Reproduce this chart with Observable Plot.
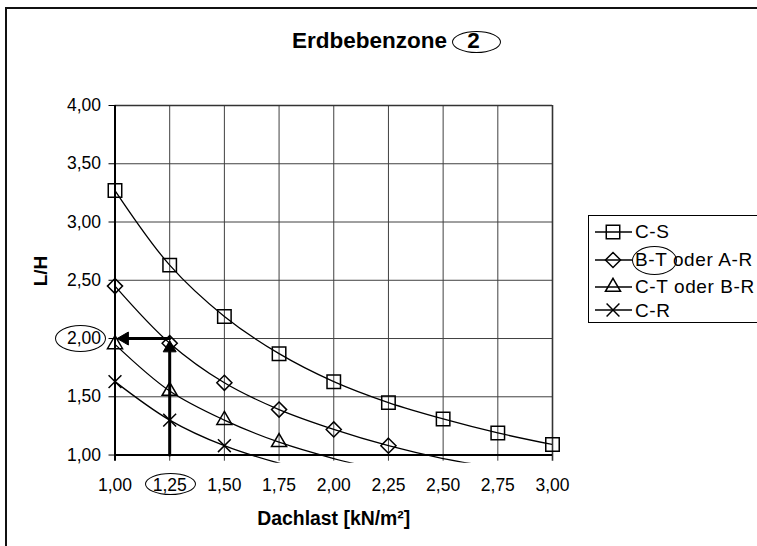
<!DOCTYPE html>
<html><head><meta charset="utf-8">
<script src="https://cdn.jsdelivr.net/npm/d3@7"></script>
<script src="https://cdn.jsdelivr.net/npm/@observablehq/plot@0.6"></script>
<style>
html,body{margin:0;padding:0;background:#fff;overflow:hidden;}
#chart{position:relative;width:757px;height:546px;overflow:hidden;font-family:"Liberation Sans",Arial,sans-serif;color:#000;background:#fff;}
#frameTop{position:absolute;left:5px;top:7px;width:760px;height:2px;background:#111;}
#frameLeft{position:absolute;left:5px;top:7px;width:2px;height:560px;background:#111;}
#plotwrap{position:absolute;left:0;top:0;}
#title{position:absolute;left:292px;top:30px;font-size:22.5px;font-weight:bold;line-height:22.5px;white-space:nowrap;}
#title .two{margin-left:14px;}
.ell{position:absolute;border:1.5px solid #000;border-radius:50%;box-sizing:border-box;pointer-events:none;}
#legend{position:absolute;left:588px;top:215px;width:180px;height:108px;border-left:1px solid #000;border-top:1px solid #000;border-bottom:1px solid #000;box-sizing:border-box;background:#fff;}
#legend .lt{position:absolute;left:46px;font-size:19px;line-height:19px;letter-spacing:0.6px;white-space:nowrap;}
#legend svg{position:absolute;left:6px;}
</style>
</head><body>
<div id="chart">
  <div id="frameTop"></div>
  <div id="frameLeft"></div>
  <div id="plotwrap"></div>
  <div id="title">Erdbebenzone <span class="two">2</span></div>
  <div id="legend"></div>
</div>
<script>
// ---- data ----
const xs = [1.00, 1.25, 1.50, 1.75, 2.00, 2.25, 2.50, 2.75, 3.00];
const seriesNames = ["C-S", "B-T oder A-R", "C-T oder B-R", "C-R"];
const cS   = [3.27, 2.63, 2.19, 1.87, 1.63, 1.45, 1.31, 1.19, 1.09];
const bTaR = [2.45, 1.96, 1.62, 1.39, 1.22, 1.08, 0.97, 0.89, 0.82];
const cTbR = [1.95, 1.55, 1.30, 1.11, 0.97, 0.86];
const cR   = [1.63, 1.30, 1.08, 0.93, 0.82];
const yTicks = [1.00, 1.50, 2.00, 2.50, 3.00, 3.50, 4.00];
const xTicks = [1.00, 1.25, 1.50, 1.75, 2.00, 2.25, 2.50, 2.75, 3.00];
const arrowVertical = [{x: 1.25, y: 1.00}, {x: 1.25, y: 1.88}];
const arrowHorizontal = [{x: 1.25, y: 2.00}, {x: 1.06, y: 2.00}];
const arrowHeads = [{x: 1.25, y: 1.918, rot: 0}, {x: 1.044, y: 2.00, rot: -90}];

// ---- styles ----
const symbols = ["square", "diamond2", "triangle2", "times"];
const symbolR = [7.6, 6.8, 7.2, 5.9];
const fmt = d => d.toFixed(2).replace(".", ",");
const seriesData = [cS, bTaR, cTbR, cR];
const rows = seriesNames.flatMap((s, i) =>
  xs.map((x, j) => ({series: s, x, y: seriesData[i][j]})).filter(d => d.y != null));

const plot = Plot.plot({
  width: 757, height: 546,
  marginTop: 105, marginLeft: 114.5, marginRight: 205, marginBottom: 83.3,
  x: {domain: [1, 3]},
  y: {domain: [0.93, 4]},
  style: {fontFamily: '"Liberation Sans", Arial, sans-serif', fontSize: "17.5px", color: "#000", background: "transparent"},
  marks: [
    Plot.ruleX(xTicks.slice(1, -1), {y1: 0.947, y2: 4, stroke: "#404040", strokeWidth: 1}),
    Plot.ruleY(yTicks.slice(1, -1), {x1: 1, x2: 3, stroke: "#404040", strokeWidth: 1}),
    Plot.ruleX([3], {y1: 0.947, y2: 4, stroke: "#333", strokeWidth: 1.6}),
    Plot.ruleY([4], {x1: 1, x2: 3, stroke: "#333", strokeWidth: 1.6}),
    Plot.ruleX([1], {y1: 0.947, y2: 4, stroke: "#000", strokeWidth: 2}),
    Plot.ruleY([1], {x1: 1, x2: 3, stroke: "#000", strokeWidth: 2}),
    Plot.axisY({ticks: yTicks, tickFormat: fmt, tickSize: 6, tickPadding: 8, label: null, stroke: "#000"}),
    Plot.axisX({ticks: xTicks, tickFormat: fmt, tickSize: 0, tickPadding: 15, label: null}),
    Plot.line(rows, {x: "x", y: "y", z: "series", curve: "catmull-rom", stroke: "#000", strokeWidth: 1.3, clip: true}),
    ...seriesNames.map((s, i) => Plot.dot(rows.filter(d => d.series === s && d.y >= 1), {
      x: "x", y: "y", symbol: symbols[i], r: symbolR[i], stroke: "#000", fill: "none", strokeWidth: 1.5
    })),
    Plot.line(arrowVertical, {x: "x", y: "y", stroke: "#000", strokeWidth: 3}),
    Plot.line(arrowHorizontal, {x: "x", y: "y", stroke: "#000", strokeWidth: 3}),
    Plot.dot(arrowHeads, {x: "x", y: "y", symbol: "triangle2", r: 6.2, rotate: "rot", fill: "#000", stroke: "#000", strokeWidth: 1}),
    Plot.text(["L/H"], {frameAnchor: "left", dx: -74.5, dy: 2, rotate: -90, fontSize: 19, fontWeight: "bold"}),
    Plot.text(["Dachlast [kN/m²]"], {frameAnchor: "bottom", dy: 55.6, lineAnchor: "middle", fontSize: 19.4, fontWeight: "bold"})
  ]
});
document.getElementById("plotwrap").appendChild(plot);

const chart = document.getElementById("chart");
function ellipse(cx, cy, w, h) {
  const e = document.createElement("div");
  e.className = "ell";
  Object.assign(e.style, {left: (cx - w / 2) + "px", top: (cy - h / 2) + "px", width: w + "px", height: h + "px"});
  chart.appendChild(e);
}

// legend
const legend = document.getElementById("legend");
const rowCenters = [231.5, 259.5, 286.5, 310];
seriesNames.forEach((s, i) => {
  const cy = rowCenters[i];
  const svg = d3.create("svg").attr("width", 40).attr("height", 20)
    .style("top", (cy - 216 - 10) + "px");
  svg.append("line").attr("x1", 0).attr("x2", 37).attr("y1", 10).attr("y2", 10).attr("stroke", "#000").attr("stroke-width", 1.3);
  const symType = {square: d3.symbolSquare, diamond2: d3.symbolDiamond2, triangle2: d3.symbolTriangle2, times: d3.symbolTimes}[symbols[i]];
  svg.append("path").attr("transform", "translate(18,10)")
    .attr("d", d3.symbol(symType, Math.PI * symbolR[i] * symbolR[i])())
    .attr("fill", "none").attr("stroke", "#000").attr("stroke-width", 1.5);
  legend.appendChild(svg.node());
  const t = document.createElement("div");
  t.className = "lt";
  t.textContent = s;
  t.style.top = (cy - 9.3 - 216) + "px";
  legend.appendChild(t);
});

// annotation ellipses
const xs_ = plot.scale("x"), ys_ = plot.scale("y");
ellipse(476.5, 42, 49, 22);                       // title "2"
ellipse(654.5, 260.5, 45, 29);                    // legend "B-T"
ellipse(xs_.apply(1) - 34, ys_.apply(2), 51, 27); // tick "2,00"
ellipse(xs_.apply(1.25) + 1, 484, 51, 22);        // tick "1,25"
</script>
</body></html>
